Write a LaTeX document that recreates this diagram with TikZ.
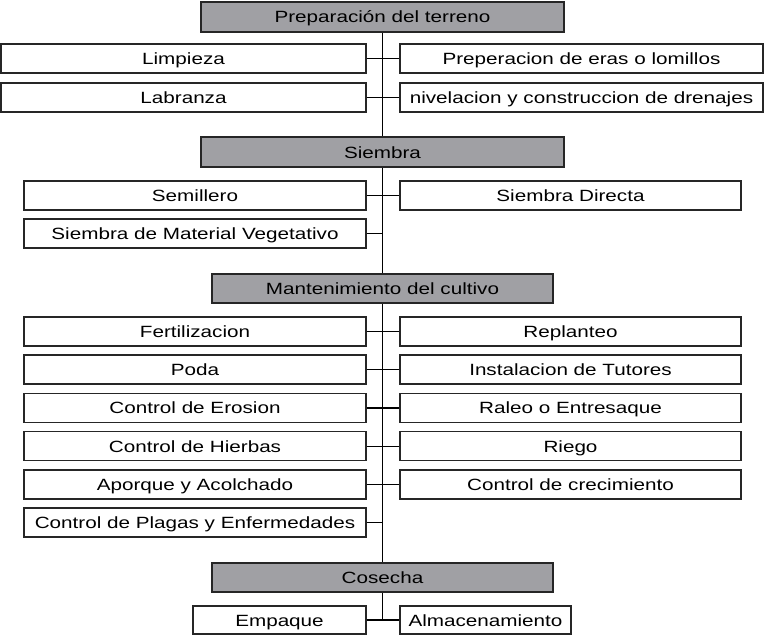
\documentclass[tikz,border=0pt]{standalone}
\usepackage{fontspec}
\setmainfont{Liberation Sans}[FakeStretch=1.27]

\definecolor{etapagris}{RGB}{160,160,164}
\tikzset{every picture/.style={line width=0.75pt}}
\tikzset{
	tarea/.style={draw=black!85, line width=1.1pt, fill=white, inner sep=0pt,
		minimum height=21.75pt, text height=9pt, text depth=0pt,
		font=\fontsize{12.2}{14}\selectfont},
	etapa/.style={tarea, fill=etapagris},
	enlace/.style={draw=black, line width=0.9pt},
}

\begin{document}
\begin{tikzpicture}[x=0.75pt,y=0.75pt,yscale=-1,xscale=1]
	\useasboundingbox (0,0) rectangle (764,635);
	
	%Etapa 1
	\node [etapa, minimum width=272.25pt, minimum height=22.5pt] (prep) at (382.5,17) {Preparación del terreno};
	\node [tarea, minimum width=273.75pt] (limp) at (183.5,58.5) {Limpieza};
	\node [tarea, minimum width=273.75pt] (labr) at (183.5,97.5) {Labranza};
	\node [tarea, minimum width=272.25pt] (eras) at (581.5,58.5) {Preperacion de eras o lomillos};
	\node [tarea, minimum width=272.25pt] (nive) at (581.5,97.5) {nivelacion y construccion de drenajes};
	
	%Etapa 2
	\node [etapa, minimum width=272.25pt, minimum height=22.5pt] (siem) at (382.5,152) {Siembra};
	\node [tarea, minimum width=256.5pt] (semi) at (195,195.5) {Semillero};
	\node [tarea, minimum width=256.5pt] (mate) at (195,233.5) {Siembra de Material Vegetativo};
	\node [tarea, minimum width=255.75pt] (dire) at (570.5,195.5) {Siembra Directa};
	
	%Etapa 3
	\node [etapa, minimum width=255.75pt] (mant) at (382.5,288.5) {Mantenimiento del cultivo};
	\node [tarea, minimum width=256.5pt] (fert) at (195,331.5) {Fertilizacion};
	\node [tarea, minimum width=256.5pt] (poda) at (195,369.7) {Poda};
	\node [tarea, minimum width=256.5pt] (eros) at (195,407.9) {Control de Erosion};
	\node [tarea, minimum width=256.5pt] (hier) at (195,446.1) {Control de Hierbas};
	\node [tarea, minimum width=256.5pt] (apor) at (195,484.3) {Aporque y Acolchado};
	\node [tarea, minimum width=256.5pt] (plag) at (195,522.5) {Control de Plagas y Enfermedades};
	\node [tarea, minimum width=255.75pt] (repl) at (570.5,331.5) {Replanteo};
	\node [tarea, minimum width=255.75pt] (tuto) at (570.5,369.7) {Instalacion de Tutores};
	\node [tarea, minimum width=255.75pt] (rale) at (570.5,407.9) {Raleo o Entresaque};
	\node [tarea, minimum width=255.75pt] (rieg) at (570.5,446.1) {Riego};
	\node [tarea, minimum width=255.75pt] (crec) at (570.5,484.3) {Control de crecimiento};
	
	%Etapa 4
	\node [etapa, minimum width=255.75pt] (cose) at (382.5,577.5) {Cosecha};
	\node [tarea, minimum width=129.75pt, minimum height=21pt] (empa) at (279.5,620) {Empaque};
	\node [tarea, minimum width=128.25pt, minimum height=21pt] (alma) at (485.5,620) {Almacenamiento};
	
	%Eje vertical
	\draw [enlace] (prep.south) -- (siem.north);
	\draw [enlace] (siem.south) -- (mant.north);
	\draw [enlace] (mant.south) -- (cose.north);
	\draw [enlace] (cose.south) -- (cose.south |- empa.east);
	
	%Ramas
	\draw [enlace] (limp.east) -- (eras.west);
	\draw [enlace] (labr.east) -- (nive.west);
	\draw [enlace] (semi.east) -- (dire.west);
	\draw [enlace] (mate.east) -- (mate.east -| siem.south);
	\draw [enlace] (fert.east) -- (repl.west);
	\draw [enlace] (poda.east) -- (tuto.west);
	\draw [enlace] (eros.east) -- (rale.west);
	\draw [enlace] (hier.east) -- (rieg.west);
	\draw [enlace] (apor.east) -- (crec.west);
	\draw [enlace] (plag.east) -- (plag.east -| mant.south);
	\draw [enlace] (empa.east) -- (alma.west);
	
\end{tikzpicture}
\end{document}
